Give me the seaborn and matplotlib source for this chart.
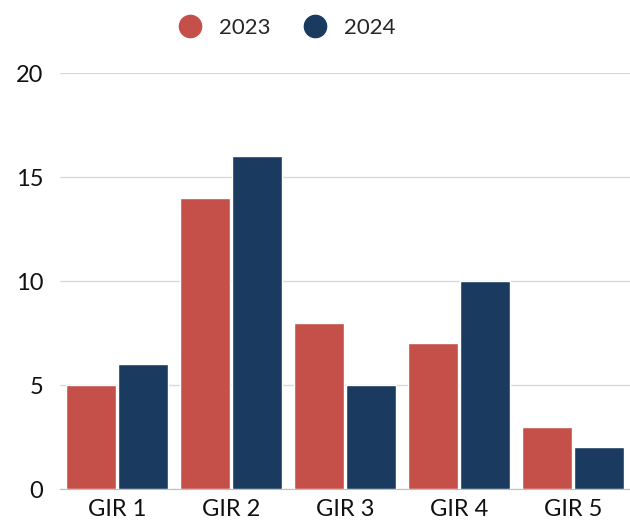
import pandas as pd
import seaborn as sns
import matplotlib.pyplot as plt
from matplotlib.lines import Line2D

groups = ["GIR 1", "GIR 2", "GIR 3", "GIR 4", "GIR 5"]
vals_2023 = [5, 14, 8, 7, 3]
vals_2024 = [6, 16, 5, 10, 2]
years = ["2023", "2024"]
colors = ["#C5504A", "#1A3A5F"]

df = pd.DataFrame({
    "Groupe": groups * 2,
    "Année": [years[0]] * 5 + [years[1]] * 5,
    "Valeur": vals_2023 + vals_2024,
})

sns.set_style("white")
plt.rcParams['font.family'] = ['Lato', 'DejaVu Sans']

fig = plt.figure(figsize=(6.3, 5.23), dpi=100)
ax = fig.add_axes([0.095, 0.065, 0.905, 0.795])

sns.barplot(data=df, x="Groupe", y="Valeur", hue="Année", palette=colors,
            saturation=1, width=0.92, gap=0.05, ax=ax, legend=False, zorder=3)

ax.set_ylim(0, 20)
ax.set_yticks([0, 5, 10, 15, 20])
ax.yaxis.grid(True, color="#d9d9d9", linewidth=1, zorder=0)
ax.set_xlabel("")
ax.set_ylabel("")
for s in ["top", "right", "left"]:
    ax.spines[s].set_visible(False)
ax.spines["bottom"].set_color("#bfbfbf")
ax.tick_params(axis="both", length=0, labelsize=17, colors="#111111", pad=7)
ax.tick_params(axis="y", pad=12)

handles = [Line2D([], [], marker="o", linestyle="", markersize=16,
                  markerfacecolor=c, markeredgecolor=c) for c in colors]
fig.legend(handles, years, loc="center", bbox_to_anchor=(0.447, 0.947),
           ncol=2, frameon=False, fontsize=16, handletextpad=0.3,
           columnspacing=1.0)

fig.savefig("out.png", dpi=100)
